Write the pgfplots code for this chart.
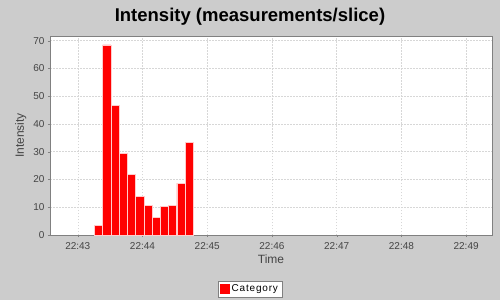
\documentclass[border=0pt]{standalone}
\usepackage{pgfplots}
\pgfplotsset{compat=1.18}
\usepackage{fontspec}
\setmainfont{Liberation Sans}
\definecolor{bg}{RGB}{204,204,204}
\definecolor{gridc}{RGB}{215,215,215}
\definecolor{axc}{RGB}{128,128,128}
\definecolor{txt}{RGB}{68,68,68}
\begin{document}
\begin{tikzpicture}[x=1pt,y=1pt]
\fill[bg] (0,0) rectangle (500,300);
\useasboundingbox (0,0) rectangle (500,300);
\node[font=\bfseries\fontsize{18.5}{22}\selectfont] at (250,283) {Intensity (measurements/slice)};
\begin{axis}[at={(50pt,65pt)}, anchor=south west, scale only axis,
  width=442pt, height=199.3pt,
  xmin=42.571, xmax=49.40, ymin=0, ymax=71.8,
  ybar, bar width=0.1273,
  axis background/.style={fill=white},
  axis line style={axc},
  xtick={43,44,45,46,47,48,49},
  xticklabels={22:43,22:44,22:45,22:46,22:47,22:48,22:49},
  ytick={0,10,20,30,40,50,60,70},
  xtick pos=bottom, ytick pos=left,
  tick align=outside, major tick length=2pt,
  tick style={axc},
  grid=major,
  major grid style={gridc, dash pattern=on 1.5pt off 1.5pt, line width=0.5pt},
  /pgf/number format/assume math mode=true,
  ticklabel style={font=\fontsize{10}{12}\selectfont, text=txt},
  xticklabel style={yshift=-2pt},
  xlabel={Time}, ylabel={Intensity},
  label style={font=\fontsize{12}{14}\selectfont, text=txt},
  xlabel style={yshift=2pt},
  legend style={at={(axis description cs:0.4525,-0.271)}, anchor=center,
    draw=axc, fill=white, font=\fontsize{10}{12}\selectfont\addfontfeatures{LetterSpace=8}, inner sep=2pt,
    legend cell align=left},
  legend image code/.code={\fill[red] (0pt,-4.5pt) rectangle (9pt,4.5pt);},
]
\addplot[fill=red, draw=red!20!white, line width=0.6pt] coordinates {
(43.321,3.5) (43.448,68.5) (43.575,46.8) (43.703,29.4) (43.830,21.8)
(43.957,14.0) (44.085,10.7) (44.212,6.3) (44.339,10.4) (44.466,10.7)
(44.594,18.7) (44.721,33.5)
};
\addlegendentry{Category}
\end{axis}
\end{tikzpicture}
\end{document}
